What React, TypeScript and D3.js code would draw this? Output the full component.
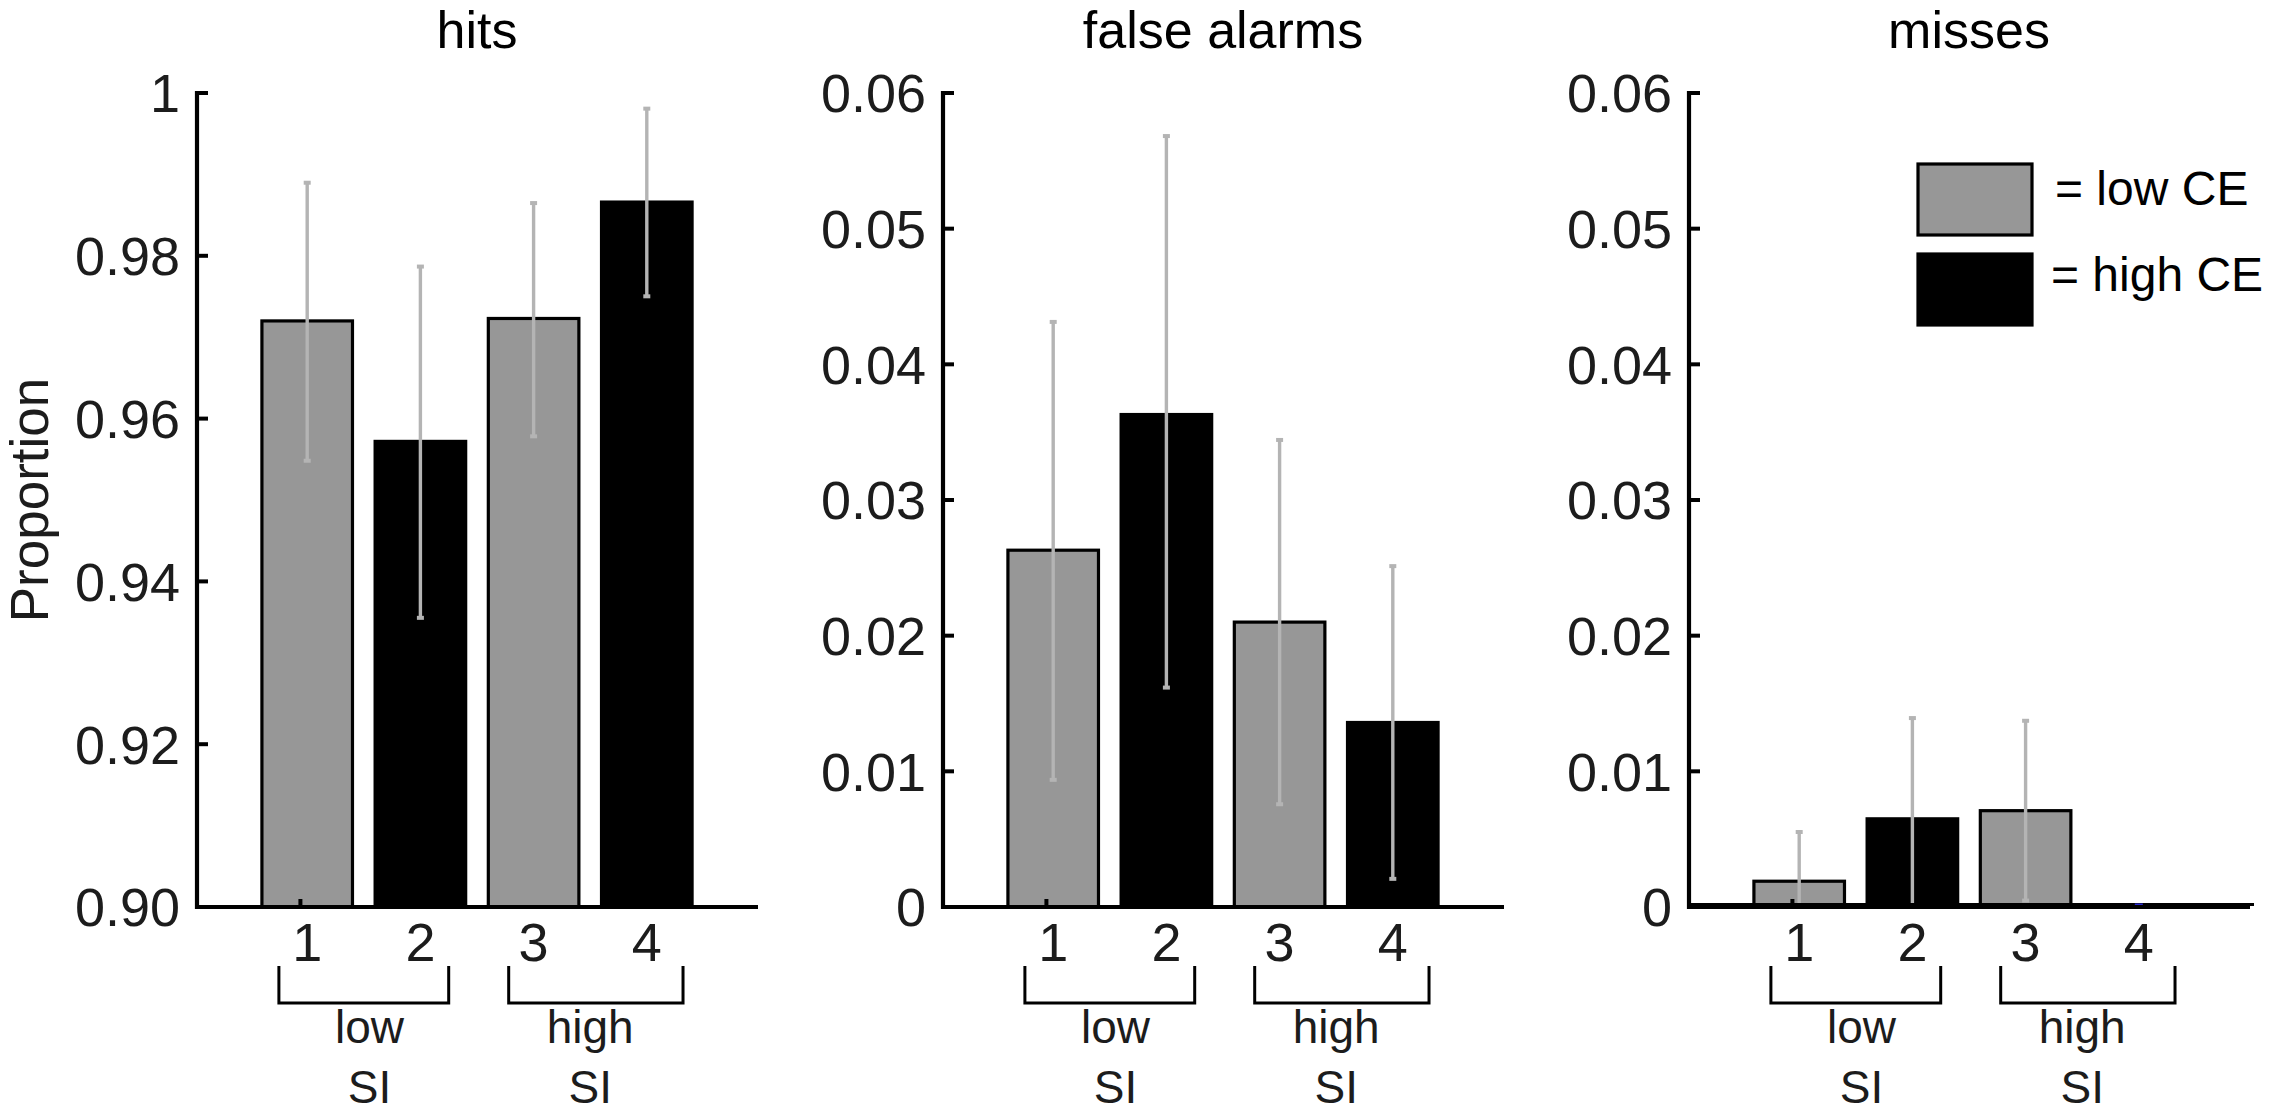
import React from 'react';
import * as d3 from 'd3';

// ---------- data ----------
const PANEL_TITLES = ['hits', 'false alarms', 'misses'];
const CATEGORIES = [1, 2, 3, 4];
const CE_LEVEL = ['low', 'high', 'low', 'high'];

const hitsValues = [0.972, 0.9572, 0.9723, 0.9866];
const hitsUpper = [0.9891, 0.9788, 0.9866, 0.9982];
const hitsLower = [0.9547, 0.9354, 0.9577, 0.9749];

const faValues = [0.0263, 0.0363, 0.021, 0.0136];
const faUpper = [0.0432, 0.0569, 0.0345, 0.0252];
const faLower = [0.0093, 0.0161, 0.0075, 0.002];

const missValues = [0.0019, 0.0065, 0.0071, 0];
const missUpper = [0.0056, 0.014, 0.0138, 0];
const missLower = [-0.0018, -0.001, 0.0004, 0];

const hitsTicks = [0.9, 0.92, 0.94, 0.96, 0.98, 1];
const hitsTickLabels = ['0.90', '0.92', '0.94', '0.96', '0.98', '1'];
const rateTicks = [0, 0.01, 0.02, 0.03, 0.04, 0.05, 0.06];
const rateTickLabels = ['0', '0.01', '0.02', '0.03', '0.04', '0.05', '0.06'];

const SI_GROUPS = ['low', 'high'];
const SI_GROUP_SPANS = [[0.75, 2.25], [2.78, 4.32]];
const SI_GROUP_LABEL_POS = [1.55, 3.5];
const LEGEND_LABELS = ['= low CE', '= high CE'];
const LEGEND_LEVELS = ['low', 'high'];

// ---------- styles ----------
const FONT = '"Liberation Sans", Arial, Helvetica, sans-serif';
const GRAY = '#979797';
const ERR = '#b4b4b4';
const TEXT = '#1c1c1c';
const fillFor = (lvl: string) => (lvl === 'low' ? GRAY : '#000');

const W = 2272;
const H = 1114;
const PANEL_LEFT = [194, 940, 1686];
const PANEL_W = 566;
const Y_TOP = 93;
const Y_BOTTOM = 907;

const panels = [
  { title: PANEL_TITLES[0], values: hitsValues, upper: hitsUpper, lower: hitsLower, domain: [0.9, 1], ticks: hitsTicks, labels: hitsTickLabels },
  { title: PANEL_TITLES[1], values: faValues, upper: faUpper, lower: faLower, domain: [0, 0.06], ticks: rateTicks, labels: rateTickLabels },
  { title: PANEL_TITLES[2], values: missValues, upper: missUpper, lower: missLower, domain: [0, 0.06], ticks: rateTicks, labels: rateTickLabels },
];

function Panel({ p, idx }: { p: any; idx: number }) {
  const left = PANEL_LEFT[idx];
  const x = d3.scaleLinear().domain([0, 5]).range([left, left + PANEL_W]);
  const y = d3.scaleLinear().domain(p.domain).range([Y_BOTTOM, Y_TOP]).clamp(true);
  const bw = x(0.8) - x(0);
  const axisX = x(0) + 3;
  const base = y(p.domain[0]);
  return (
    <g>
      <text x={x(2.5)} y={48} textAnchor="middle" fontSize={52} fontFamily={FONT} fill="#000">
        {p.title}
      </text>
      {/* bars */}
      {CATEGORIES.map((c, i) => {
        const top = y(p.values[i]);
        const h = base - top;
        if (h <= 0) return null;
        return (
          <rect key={'b' + c} x={x(c) - bw / 2} y={top} width={bw} height={h}
            fill={fillFor(CE_LEVEL[i])} stroke="#000" strokeWidth={3.2} />
        );
      })}
      {/* error bars */}
      {CATEGORIES.map((c, i) => {
        if (p.upper[i] === p.lower[i]) return null;
        const yu = y(p.upper[i]);
        const yl = y(p.lower[i]);
        return (
          <g key={'e' + c} stroke={ERR}>
            <line x1={x(c)} x2={x(c)} y1={yu} y2={yl} strokeWidth={3.4} />
            <line x1={x(c) - 3.5} x2={x(c) + 3.5} y1={yu + 1} y2={yu + 1} strokeWidth={4} />
            {p.lower[i] > p.domain[0] && (
              <line x1={x(c) - 3.5} x2={x(c) + 3.5} y1={yl - 1} y2={yl - 1} strokeWidth={4} />
            )}
          </g>
        );
      })}
      {/* small x tick mark near first bar */}
      <line x1={x(0.94)} x2={x(0.94)} y1={base} y2={base - 8} stroke="#000" strokeWidth={4} />
      {idx === 2 && (
        <>
          <line x1={axisX} x2={x(5) + 2} y1={base - 2.5} y2={base - 2.5} stroke="#000" strokeWidth={3} />
          <line x1={x(4) - 4} x2={x(4) + 4} y1={base - 2} y2={base - 2} stroke="#2a2ad0" strokeWidth={3} />
        </>
      )}
      {/* axes */}
      <line x1={axisX} x2={axisX} y1={Y_TOP - 2} y2={base + 2} stroke="#000" strokeWidth={4.2} />
      <line x1={axisX - 2} x2={x(5) - 2} y1={base} y2={base} stroke="#000" strokeWidth={4.2} />
      {p.ticks.map((t: number, i: number) => (
        <g key={'t' + i}>
          <line x1={axisX} x2={axisX + 11} y1={y(t)} y2={y(t)} stroke="#000" strokeWidth={4} />
          <text x={axisX - 17} y={y(t)} dy="0.36em" textAnchor="end" fontSize={54} fontFamily={FONT} fill={TEXT}>
            {p.labels[i]}
          </text>
        </g>
      ))}
      {CATEGORIES.map((c) => (
        <text key={'xl' + c} x={x(c)} y={961} textAnchor="middle" fontSize={54} fontFamily={FONT} fill={TEXT}>
          {String(c)}
        </text>
      ))}
      {/* SI group brackets */}
      {SI_GROUPS.map((g, gi) => {
        const [a, b] = SI_GROUP_SPANS[gi];
        const xa = x(a);
        const xb = x(b);
        return (
          <g key={'g' + g}>
            <path d={`M${xa},966 V1003 H${xb} V966`} fill="none" stroke="#000" strokeWidth={3} />
            <text x={x(SI_GROUP_LABEL_POS[gi])} y={1043} textAnchor="middle" fontSize={46} fontFamily={FONT} fill={TEXT}>
              {g}
            </text>
            <text x={x(SI_GROUP_LABEL_POS[gi])} y={1103} textAnchor="middle" fontSize={46} fontFamily={FONT} fill={TEXT}>
              SI
            </text>
          </g>
        );
      })}
    </g>
  );
}

export default function App() {
  return (
    <svg width={W} height={H} viewBox={`0 0 ${W} ${H}`}
      style={{ position: 'absolute', left: 0, top: 0, background: '#fff' }}>
      <rect x={0} y={0} width={W} height={H} fill="#fff" />
      <text transform={`translate(48,${(Y_TOP + Y_BOTTOM) / 2}) rotate(-90)`} textAnchor="middle"
        fontSize={53} fontFamily={FONT} fill={TEXT}>
        Proportion
      </text>
      {panels.map((p, i) => (
        <Panel key={p.title} p={p} idx={i} />
      ))}
      {/* legend */}
      {LEGEND_LABELS.map((lab, i) => (
        <g key={lab}>
          <rect x={1918} y={i === 0 ? 164 : 254} width={114} height={71}
            fill={fillFor(LEGEND_LEVELS[i])} stroke="#000" strokeWidth={3.2} />
          <text x={i === 0 ? 2055 : 2051} y={i === 0 ? 205 : 291} fontSize={48} fontFamily={FONT} fill="#000">
            {lab}
          </text>
        </g>
      ))}
    </svg>
  );
}
